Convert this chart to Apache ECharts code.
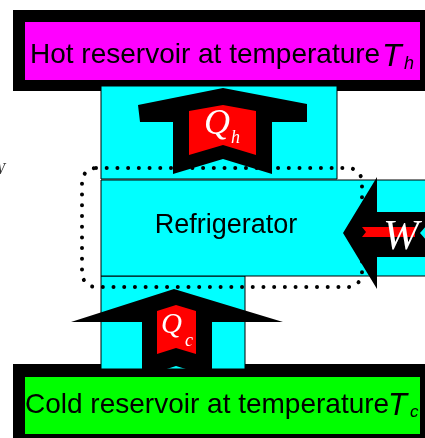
<!DOCTYPE html>
<html><head><meta charset="utf-8">
<script src="https://cdn.jsdelivr.net/npm/echarts@6/dist/echarts.min.js"></script>
<style>html,body{margin:0;padding:0;background:#fff;overflow:hidden}#c{width:425px;height:438px}</style>
</head><body><div id="c"></div>
<script>
// ---- Diagram content (axis units: x 0..425, y 0..438 downward) ----
const labelTexts = ['Hot reservoir at temperature', 'Refrigerator', 'Cold reservoir at temperature'];
const symbolTexts = ['T', 'h', 'Q', 'h', 'W', 'Q', 'c', 'T', 'c', 'W'];

// Region outlines (vertices in axis units)
const hotBorder   = [[13,10],[425,10],[425,91],[13,91]];
const hotFill     = [[25,22],[420,22],[420,80],[25,80]];
const coldBorder  = [[13,364],[425,364],[425,440],[13,440]];
const coldFill    = [[25,377],[420,377],[420,434],[25,434]];
const upperBox    = [[101,86],[337,86],[337,179],[101,179]];
const lowerBox    = [[101,276],[245,276],[245,369],[101,369]];
const fridgeBox   = [[101,180],[430,180],[430,276],[101,276]];
const hotArrow    = [[223,88],[307,104],[307,122],[272,122],[272,174],[223,159],[173,174],[173,122],[140,122],[138,105]];
const hotRed      = [[189,111],[223,105],[256,111],[256,155],[223,145],[189,155]];
const workArrow   = [[343,233],[377,177],[377,212],[430,212],[430,257],[377,257],[377,289]];
const workRed     = [[362,227],[415,227],[415,237],[362,237],[366,232]];
const workNotch   = [[420,233],[426,226],[426,240]];
const coldArrow   = [[174,289],[283,322],[212,322],[212,377],[176,366],[142,377],[142,322],[71,322]];
const coldRed     = [[157,311],[176,305],[196,311],[196,354],[176,348],[157,354]];
const cycleLoop   = [[82,168],[362,287]];

// ---- Styling / layout (kept separate from content) ----
const BLACK='#000000', MAG='#ff00ff', CYAN='#00ffff', GREEN='#00ff00', RED='#ff0000';
const backShapes = [
  {pts: hotBorder, fill: BLACK},
  {pts: hotFill, fill: MAG},
  {pts: coldBorder, fill: BLACK},
  {pts: coldFill, fill: GREEN},
  {pts: upperBox, fill: CYAN, stroke: BLACK},
  {pts: lowerBox, fill: CYAN, stroke: BLACK},
  {pts: fridgeBox, fill: CYAN, stroke: BLACK}
];
const frontShapes = [
  {pts: hotArrow, fill: BLACK},
  {pts: hotRed, fill: RED},
  {pts: workArrow, fill: BLACK},
  {pts: workRed, fill: RED},
  {pts: workNotch, fill: CYAN},
  {pts: coldArrow, fill: BLACK},
  {pts: coldRed, fill: RED}
];
const SANS='"Liberation Sans", Arial, sans-serif', SERIF='"Liberation Serif", "Times New Roman", serif';
const textItems = [
  {t: labelTexts[0], at:[30,55.3], font:'28px '+SANS, fill:BLACK, align:'left'},
  {t: symbolTexts[0], at:[382,57], font:'italic 32px '+SANS, fill:BLACK, align:'left'},
  {t: symbolTexts[1], at:[404,63.8], font:'italic 18px '+SANS, fill:BLACK, align:'left'},
  {t: labelTexts[1], at:[226,225.6], font:'27px '+SANS, fill:BLACK, align:'center'},
  {t: symbolTexts[2], at:[204,124.8], font:'italic 36px '+SERIF, fill:'#ffffff', align:'left'},
  {t: symbolTexts[3], at:[231,137.9], font:'italic 18px '+SERIF, fill:'#ffffff', align:'left'},
  {t: symbolTexts[4], at:[401,237.5], font:'italic 43px '+SERIF, fill:'#ffffff', align:'center'},
  {t: symbolTexts[5], at:[161,325.5], font:'italic 29px '+SERIF, fill:'#ffffff', align:'left'},
  {t: symbolTexts[6], at:[185,341], font:'italic 18px '+SERIF, fill:'#ffffff', align:'left'},
  {t: labelTexts[2], at:[25,405.3], font:'28px '+SANS, fill:BLACK, align:'left'},
  {t: symbolTexts[7], at:[388,406.3], font:'italic 31px '+SANS, fill:BLACK, align:'left'},
  {t: symbolTexts[8], at:[410,412], font:'italic 17px '+SANS, fill:BLACK, align:'left'},
  {t: symbolTexts[9], at:[5,170], font:'italic 16px '+SERIF, fill:'#333333', align:'right'}
];

function polySeries(list, z) {
  return {
    type: 'custom', z: z, silent: true, clip: false, animation: false,
    data: list.map(s => s.pts[0]),
    renderItem: function (params, api) {
      const s = list[params.dataIndex];
      return {
        type: 'polygon',
        shape: {points: s.pts.map(p => api.coord(p))},
        style: {fill: s.fill, stroke: s.stroke || null, lineWidth: s.stroke ? 1 : 0}
      };
    }
  };
}

const chart = echarts.init(document.getElementById('c'), null, {renderer: 'canvas'});
chart.setOption({
  animation: false,
  backgroundColor: '#ffffff',
  grid: {left: 0, right: 0, top: 0, bottom: 0},
  xAxis: {type: 'value', min: 0, max: 425, show: false},
  yAxis: {type: 'value', min: 0, max: 438, inverse: true, show: false},
  series: [
    polySeries(backShapes, 1),
    {
      type: 'custom', z: 2, silent: true, clip: false, animation: false,
      data: [cycleLoop[0]],
      renderItem: function (params, api) {
        const a = api.coord(cycleLoop[0]), b = api.coord(cycleLoop[1]);
        return {
          type: 'rect',
          shape: {x: a[0], y: a[1], width: b[0] - a[0], height: b[1] - a[1], r: 14},
          style: {fill: null, stroke: BLACK, lineWidth: 4, lineDash: [0.01, 10.7], lineCap: 'round'}
        };
      }
    },
    polySeries(frontShapes, 3),
    {
      type: 'custom', z: 4, silent: true, clip: false, animation: false,
      data: textItems.map(d => d.at),
      renderItem: function (params, api) {
        const d = textItems[params.dataIndex];
        const p = api.coord(d.at);
        return {
          type: 'text', x: p[0], y: p[1],
          style: {text: d.t, font: d.font, fill: d.fill, align: d.align, verticalAlign: 'middle'}
        };
      }
    }
  ]
});
</script>
</body></html>
